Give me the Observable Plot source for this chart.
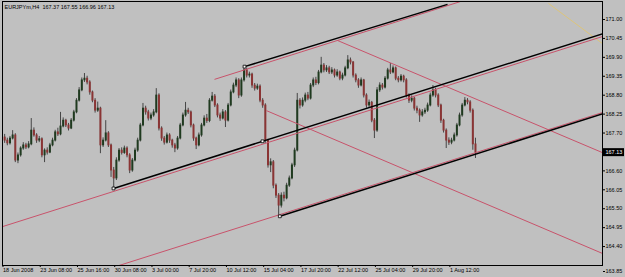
<!DOCTYPE html>
<html>
<head>
<meta charset="utf-8">
<script src="https://cdn.jsdelivr.net/npm/d3@7"></script>
<script src="https://cdn.jsdelivr.net/npm/@observablehq/plot@0.6"></script>
<style>
  html, body { margin: 0; padding: 0; background: #c0c0c0; }
  #chart { width: 625px; height: 277px; overflow: hidden; }
  svg { display: block; }
</style>
</head>
<body>
<div id="chart"></div>
<script>
// ---------------- data (EURJPYm, H4) ----------------
const symbol = "EURJPYm,H4";

const opens = [
167.92,167.57,167.48,167.40,167.54,167.63,166.90,167.05,167.25,167.34,
167.28,167.37,167.77,167.63,167.48,167.52,167.05,167.19,167.13,167.34,
167.48,167.72,167.66,167.89,168.06,167.92,167.83,168.06,168.30,168.64,
168.94,169.23,169.28,169.17,168.88,168.64,168.35,168.41,167.34,167.48,
167.69,167.34,166.61,166.38,166.90,167.19,167.12,167.25,167.05,166.61,
166.90,167.19,167.48,167.92,168.41,168.30,168.12,168.21,168.30,168.79,
167.83,167.54,167.42,167.63,167.48,167.34,167.25,167.54,167.92,168.21,
168.35,168.30,167.92,167.54,167.34,167.63,167.92,168.12,168.05,168.64,
168.76,168.50,168.21,168.12,168.30,168.06,168.50,168.88,169.08,169.23,
168.79,169.23,169.52,169.37,169.40,169.08,168.99,169.05,168.64,168.50,
167.48,166.76,166.85,166.17,165.88,165.59,165.88,165.80,166.17,166.38,
166.76,167.19,168.64,168.50,168.64,168.79,168.70,169.08,169.23,169.15,
169.46,169.66,169.52,169.58,169.46,169.52,169.37,169.46,169.28,169.37,
169.58,169.81,169.75,169.37,169.23,169.08,169.23,168.79,168.50,168.58,
168.06,167.77,168.94,169.08,169.02,169.28,169.52,169.46,169.58,169.28,
169.23,169.34,169.23,168.79,168.64,168.70,168.41,168.35,168.21,168.30,
168.35,168.50,168.79,168.94,168.79,168.50,168.06,167.77,167.48,167.42,
167.48,167.63,167.92,168.21,168.50,168.64,168.59,168.35,167.37];

const highs = [
168.00,167.66,167.55,167.60,167.77,167.68,167.12,167.30,167.42,167.40,
167.45,168.12,167.85,167.68,167.60,167.56,167.24,167.27,167.40,167.55,
167.78,167.84,168.30,168.14,168.10,167.98,168.12,168.36,168.70,169.02,
169.30,169.43,169.35,169.22,168.92,168.70,168.60,168.45,167.56,168.06,
167.74,167.38,166.70,166.98,167.25,167.27,167.32,167.30,167.10,166.96,
167.26,167.55,167.98,168.56,168.48,168.36,168.28,168.38,168.99,168.84,
167.88,167.60,167.70,167.68,167.52,167.40,167.60,167.98,168.28,168.59,
168.42,168.34,167.96,167.58,167.70,167.98,168.20,168.24,168.70,168.88,
168.82,168.55,168.28,168.38,168.35,168.56,168.95,169.15,169.30,169.28,
169.30,169.63,169.58,169.47,169.44,169.14,169.12,169.10,168.70,168.55,
167.52,166.95,166.90,166.22,165.94,165.96,165.98,166.24,166.45,166.82,
167.26,168.85,168.70,168.72,168.86,168.88,169.14,169.30,169.32,169.52,
169.90,169.72,169.66,169.64,169.60,169.56,169.54,169.50,169.44,169.64,
169.95,169.88,169.78,169.42,169.28,169.30,169.26,168.84,168.66,168.62,
168.12,169.02,169.16,169.14,169.34,169.58,169.72,169.65,169.62,169.34,
169.40,169.38,169.28,168.84,168.78,168.74,168.48,168.40,168.38,168.42,
168.57,168.86,169.08,169.00,168.84,168.54,168.10,167.82,167.56,167.55,
167.70,167.98,168.28,168.56,168.73,168.70,168.64,168.40,167.55];

const lows = [
167.50,167.40,167.33,167.35,167.50,166.84,166.81,167.00,167.20,167.22,
167.24,167.33,167.58,167.40,167.42,166.98,166.84,167.06,167.10,167.30,
167.44,167.60,167.62,167.85,167.86,167.76,167.80,168.02,168.26,168.60,
168.90,169.17,169.10,168.80,168.58,168.28,168.30,167.10,167.28,167.44,
167.28,166.41,166.09,166.32,166.85,167.06,167.08,166.98,166.52,166.56,
166.86,167.14,167.44,167.88,168.22,168.05,168.06,168.16,168.26,167.76,
167.46,167.35,167.38,167.40,167.26,167.13,167.20,167.50,167.88,168.16,
168.24,167.85,167.46,167.22,167.30,167.58,167.88,167.98,168.00,168.60,
168.44,168.14,168.04,168.08,167.86,168.02,168.46,168.84,169.02,168.70,
168.74,169.18,169.30,169.30,169.00,168.92,168.94,168.58,168.42,167.40,
166.68,166.55,166.08,165.80,165.30,165.52,165.70,165.76,166.12,166.34,
166.70,167.15,168.40,168.45,168.58,168.64,168.66,169.02,169.08,169.10,
169.42,169.45,169.46,169.40,169.40,169.30,169.32,169.22,169.22,169.33,
169.54,169.68,169.30,169.16,169.00,169.04,168.72,168.42,168.44,168.00,
167.54,167.72,168.88,168.95,168.98,169.24,169.40,169.42,169.22,169.16,
169.18,169.16,168.72,168.56,168.58,168.34,168.26,168.01,168.16,168.24,
168.30,168.46,168.74,168.72,168.44,167.98,167.70,167.25,167.34,167.36,
167.44,167.58,167.88,168.16,168.46,168.52,168.28,167.20,166.96];

const closes = [
167.57,167.48,167.40,167.54,167.63,166.90,167.05,167.25,167.34,167.28,
167.37,167.77,167.63,167.48,167.52,167.05,167.19,167.13,167.34,167.48,
167.72,167.66,167.89,168.06,167.92,167.83,168.06,168.30,168.64,168.94,
169.23,169.28,169.17,168.88,168.64,168.35,168.41,167.34,167.48,167.69,
167.34,166.61,166.38,166.90,167.19,167.12,167.25,167.05,166.61,166.90,
167.19,167.48,167.92,168.41,168.30,168.12,168.21,168.30,168.79,167.83,
167.54,167.42,167.63,167.48,167.34,167.25,167.54,167.92,168.21,168.35,
168.30,167.92,167.54,167.34,167.63,167.92,168.12,168.05,168.64,168.76,
168.50,168.21,168.12,168.30,168.06,168.50,168.88,169.08,169.23,168.79,
169.23,169.52,169.37,169.40,169.08,168.99,169.05,168.64,168.50,167.48,
166.76,166.85,166.17,165.88,165.59,165.88,165.80,166.17,166.38,166.76,
167.19,168.64,168.50,168.64,168.79,168.70,169.08,169.23,169.15,169.46,
169.66,169.52,169.58,169.46,169.52,169.37,169.46,169.28,169.37,169.58,
169.81,169.75,169.37,169.23,169.08,169.23,168.79,168.50,168.58,168.06,
167.77,168.94,169.08,169.02,169.28,169.52,169.46,169.58,169.28,169.23,
169.34,169.23,168.79,168.64,168.70,168.41,168.35,168.21,168.30,168.35,
168.50,168.79,168.94,168.79,168.50,168.06,167.77,167.48,167.42,167.48,
167.63,167.92,168.21,168.50,168.64,168.59,168.35,167.37,167.13];

// time-axis labels (bar index -> label)
const xTickBars = [0,14,28,42,56,70,84,98,112,126,140,154,168];
const xTickLabels = ["18 Jun 2008","23 Jun 08:00","25 Jun 16:00","30 Jun 08:00","3 Jul 00:00",
  "7 Jul 20:00","10 Jul 12:00","15 Jul 04:00","17 Jul 20:00","22 Jul 12:00","25 Jul 04:00",
  "29 Jul 20:00","1 Aug 12:00"];

// price-axis labels
const yTicks = [171.00,170.45,169.90,169.35,168.80,168.25,167.70,166.60,166.05,165.50,164.95,164.40];
const yBottomTick = [163.85];

// trend lines (bar index, price)
const blackLines = [
  {x1: 91.17, y1: 169.63, x2: 167.48, y2: 171.44},
  {x1: 41.92, y1: 166.09, x2: 225.75, y2: 170.584},
  {x1: 104.44, y1: 165.28, x2: 225.75, y2: 168.258}
];
const redLines = [
  {x1: 79.89, y1: 169.26, x2: 173.5, y2: 171.55},
  {x1: 0.19, y1: 164.98, x2: 225.75, y2: 170.505},
  {x1: 43.98, y1: 163.85, x2: 225.75, y2: 168.296},
  {x1: 126.13, y1: 170.39, x2: 225.75, y2: 167.13},
  {x1: 99.44, y1: 168.35, x2: 225.75, y2: 164.20}
];
const yellowLines = [
  {x1: 205.45, y1: 171.465, x2: 225.75, y2: 170.30}
];
const anchorBars = [91.17, 41.92, 97.93, 104.44];
const anchorPrices = [169.63, 166.09, 167.46, 165.28];

// ---------------- build ----------------
const bars = closes.map((c, i) => ({i, o: opens[i], h: highs[i], l: lows[i], c}));
const anchors = anchorBars.map((b, k) => ({x: b, y: anchorPrices[k]}));
const last = bars[bars.length - 1];
const titleText = `${symbol}  ${last.o.toFixed(2)} ${last.h.toFixed(2)} ${last.l.toFixed(2)} ${last.c.toFixed(2)}`;

const BULL = "#1f3a1f", BEAR = "#8a3434", WICK = "#454545";
const RED = "#c8536b", YELLOW = "#dcc47a";

function priceBox(index, scales, values, dimensions) {
  const y = scales.y(last.c);
  const g = d3.create("svg:g");
  g.append("rect")
    .attr("x", dimensions.width - dimensions.marginRight + 1)
    .attr("y", y - 4)
    .attr("width", 21)
    .attr("height", 8)
    .attr("fill", "#000");
  return g.node();
}

const chart = Plot.plot({
  width: 625,
  height: 277,
  marginTop: 1,
  marginLeft: 2,
  marginRight: 23,
  marginBottom: 12,
  style: {background: "#c0c0c0", fontFamily: "'Liberation Sans', Arial, sans-serif", fontSize: "5.5px", color: "#000", overflow: "visible"},
  x: {domain: [0.188, 225.75], axis: null},
  y: {domain: [163.85, 171.523], axis: null},
  color: {type: "identity"},
  marks: [
    // candles
    Plot.ruleX(bars, {x: "i", y1: "l", y2: "h", stroke: WICK, strokeWidth: 1, clip: true}),
    Plot.ruleX(bars, {x: "i", y1: d => Math.min(d.o, d.c) - 0.012, y2: d => Math.max(d.o, d.c) + 0.012,
      stroke: d => d.c >= d.o ? BULL : BEAR, strokeWidth: 2, clip: true}),
    // objects
    Plot.link(yellowLines, {x1: "x1", y1: "y1", x2: "x2", y2: "y2", stroke: YELLOW, strokeWidth: 1, clip: true}),
    Plot.link(redLines, {x1: "x1", y1: "y1", x2: "x2", y2: "y2", stroke: RED, strokeWidth: 1, clip: true}),
    Plot.link(blackLines, {x1: "x1", y1: "y1", x2: "x2", y2: "y2", stroke: "#000", strokeWidth: 1.5, clip: true}),
    Plot.dot(anchors, {x: "x", y: "y", symbol: "square", r: 1.6, fill: "#fff", stroke: "#000", strokeWidth: 0.8}),
    // frame
    Plot.frame({stroke: "#000", strokeWidth: 1}),
    // title
    Plot.text([titleText], {frameAnchor: "top-left", dx: 2, dy: 4, text: d => d, textAnchor: "start", lineAnchor: "top", fill: "#000", fontSize: 5.5}),
    // axes
    Plot.axisX({ticks: xTickBars, tickFormat: d => xTickLabels[xTickBars.indexOf(d)], anchor: "bottom",
      tickSize: 2, tickPadding: 1, textAnchor: "start", dx: 1, label: null, fontSize: 5.5}),
    Plot.axisY({ticks: yTicks, tickFormat: d => d.toFixed(2), anchor: "right", tickSize: 2, tickPadding: 1, label: null, fontSize: 5.5}),
    Plot.axisY({ticks: yBottomTick, tickFormat: d => d.toFixed(2), anchor: "right", tickSize: 2, tickPadding: 1, dy: 6, label: null, fontSize: 5.5}),
    // current price label
    priceBox,
    Plot.text([last.c], {y: d => d, frameAnchor: "right", dx: 3, text: d => d.toFixed(2), textAnchor: "start", fill: "#fff", fontSize: 5.5})
  ]
});
document.getElementById("chart").appendChild(chart);
</script>
</body>
</html>
